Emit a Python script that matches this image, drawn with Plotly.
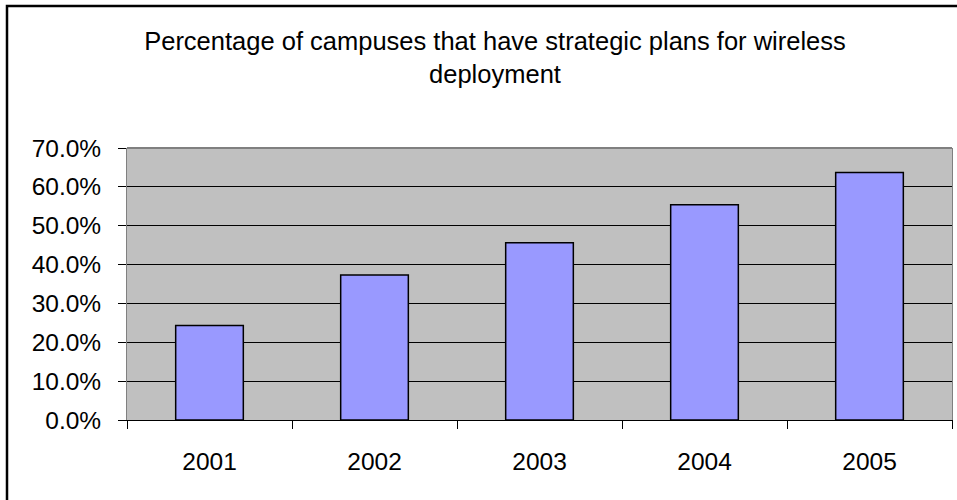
import plotly.graph_objects as go

# Survey results by year
years = ["2001", "2002", "2003", "2004", "2005"]
share_with_plan = [0.243, 0.373, 0.456, 0.554, 0.637]

title_text = "Percentage of campuses that have strategic plans for wireless<br>deployment"

FONT = "Liberation Sans, Arial, sans-serif"
FSIZE = 24.5

fig = go.Figure(
    go.Bar(
        x=years,
        y=share_with_plan,
        marker=dict(color="#9999FF", line=dict(color="#000000", width=1.5)),
        width=0.41,
        hoverinfo="x+y",
    )
)

W, H = 957, 500
L, R, T, B = 127, 5, 148, 80
pw, ph = W - L - R, H - T - B


def px_x(px):
    return (px - L) / pw


def px_y(py):
    return (H - B - py) / ph


fig.update_layout(
    width=W,
    height=H,
    margin=dict(l=L, r=R, t=T, b=B),
    paper_bgcolor="white",
    plot_bgcolor="#C0C0C0",
    showlegend=False,
    font=dict(family=FONT, size=FSIZE, color="#000000"),
    title=dict(
        text=title_text,
        x=495 / W,
        xanchor="center",
        xref="container",
        y=1 - 50 / H,
        yanchor="middle",
        yref="container",
        font=dict(family=FONT, size=25.5, color="#000000"),
    ),
    xaxis=dict(
        type="category",
        range=[-0.5, 4.5],
        showgrid=False,
        showline=True,
        linecolor="#000000",
        linewidth=1,
        ticks="outside",
        tickson="boundaries",
        ticklen=8,
        tickcolor="#000000",
        tickfont=dict(family=FONT, size=FSIZE, color="#000000"),
        ticklabelstandoff=20,
        fixedrange=True,
    ),
    yaxis=dict(
        range=[0, 0.7],
        dtick=0.1,
        tick0=0,
        tickformat=".1%",
        showgrid=True,
        gridcolor="#000000",
        gridwidth=1,
        zeroline=False,
        showline=True,
        linecolor="#808080",
        linewidth=1,
        mirror=True,
        ticks="outside",
        ticklen=8,
        tickcolor="#000000",
        tickfont=dict(family=FONT, size=FSIZE, color="#000000"),
        ticklabelstandoff=12,
        fixedrange=True,
    ),
    shapes=[
        # top edge of the plot area
        dict(
            type="line", xref="paper", yref="paper",
            x0=0, x1=1, y0=1, y1=1,
            line=dict(color="#808080", width=2),
        ),
        # outer chart frame
        dict(
            type="rect", xref="paper", yref="paper",
            x0=px_x(7), x1=px_x(1010), y0=px_y(6), y1=px_y(540),
            line=dict(color="#000000", width=2.5),
            fillcolor="rgba(0,0,0,0)",
            layer="above",
        ),
    ],
)

fig.write_html("out.html")
